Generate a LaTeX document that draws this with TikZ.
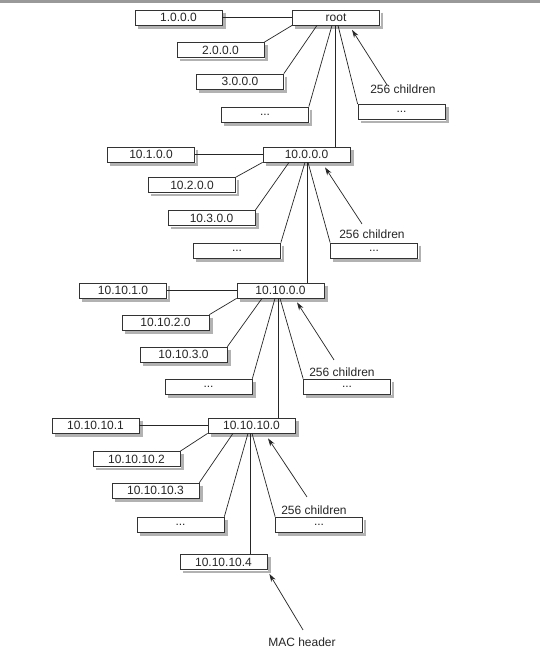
\documentclass[tikz,border=0pt]{standalone}
\usepackage{fontspec}
\setmainfont{Liberation Sans}
\usetikzlibrary{arrows.meta}
\begin{document}
\begin{tikzpicture}[x=1pt,y=-1pt,
  box/.style={draw=black!80, line width=0.7pt, fill=white, minimum width=87pt, minimum height=15pt, inner sep=0pt, font=\fontsize{12}{14}\selectfont, text=black!85},
  lbl/.style={inner sep=0pt, font=\fontsize{12}{14}\selectfont, text=black!85},
  con/.style={draw=black!85, line width=0.7pt},
  arr/.style={con, -{Stealth[length=8pt,width=5pt]}},
  shad/.style={draw=black!30, line width=2.6pt}
]
\fill[white] (0,0) rectangle (540,653);
\fill[black!40] (0,0) rectangle (540,3);

% ---- level 1
\node[box] (root) at (336,17.5) {root};
\node[box] (a1) at (178.5,17.5) {1.0.0.0};
\node[box] (a2) at (220.5,50) {2.0.0.0};
\node[box] (a3) at (240,81.5) {3.0.0.0};
\node[box] (al) at (265,114.5) {...};
\node[box] (ar) at (401.5,112) {...};
\node[lbl] (t1) at (403,89.5) {256 children};

% ---- level 2
\node[box] (b0) at (306.5,154.5) {10.0.0.0};
\node[box] (b1) at (151,154.5) {10.1.0.0};
\node[box] (b2) at (192,185) {10.2.0.0};
\node[box] (b3) at (211.5,218) {10.3.0.0};
\node[box] (bl) at (237,250.5) {...};
\node[box] (br) at (374,250.5) {...};
\node[lbl] (t2) at (372,234.5) {256 children};

% ---- level 3
\node[box] (c0) at (280.5,290.5) {10.10.0.0};
\node[box] (c1) at (123,290.5) {10.10.1.0};
\node[box] (c2) at (165.5,322.5) {10.10.2.0};
\node[box] (c3) at (183.5,354.5) {10.10.3.0};
\node[box] (cl) at (208.5,386.5) {...};
\node[box] (cr) at (347,386.5) {...};
\node[lbl] (t3) at (342,372) {256 children};

% ---- level 4
\node[box] (d0) at (251.5,425.5) {10.10.10.0};
\node[box] (d1) at (95.5,425.5) {10.10.10.1};
\node[box] (d2) at (136.5,459) {10.10.10.2};
\node[box] (d3) at (155.5,490.5) {10.10.10.3};
\node[box] (dl) at (180.5,524.5) {...};
\node[box] (dr) at (319,524.5) {...};
\node[lbl] (t4) at (314,510) {256 children};
\node[box] (d4) at (223.5,562) {10.10.10.4};
\node[lbl] (mac) at (302,642) {MAC header};

% ---- box shadows (right and bottom bands)
\foreach \bx in {root,a1,a2,a3,al,ar,b0,b1,b2,b3,bl,br,c0,c1,c2,c3,cl,cr,d0,d1,d2,d3,dl,dr,d4}{
  \draw[shad] ([shift={(2,3)}]\bx.north east) -- ([shift={(2,2)}]\bx.south east)
    -- ([shift={(3,2)}]\bx.south west);
}

% ---- connectors level 1
\draw[con] (a1.east) -- (a1.east -| root.west);
\draw[con] (a2.north east) -- (root.south west);
\draw[con] (a3.north east) -- ([xshift=-19pt]root.south);
\draw[con] (al.north east) -- ([xshift=-4pt]root.south);
\draw[con] (ar.north west) -- ([xshift=2pt]root.south);
\draw[con] ([xshift=-1pt]root.south) -- ([xshift=-1pt]root.south |- b0.north);
\draw[arr] ([shift={(-16,0)}]t1.north) -- ([shift={(16,4.5)}]root.south);

% ---- connectors level 2
\draw[con] (b1.east) -- (b1.east -| b0.west);
\draw[con] (b2.north east) -- (b0.south west);
\draw[con] (b3.north east) -- ([xshift=-17.5pt]b0.south);
\draw[con] (bl.north east) -- ([xshift=-1.5pt]b0.south);
\draw[con] (br.north west) -- ([xshift=1.5pt]b0.south);
\draw[con] ([xshift=0.5pt]b0.south) -- ([xshift=0.5pt]b0.south |- c0.north);
\draw[arr] ([shift={(-10,-6)}]t2.north) -- ([shift={(18.5,5)}]b0.south);

% ---- connectors level 3
\draw[con] (c1.east) -- (c1.east -| c0.west);
\draw[con] (c2.north east) -- (c0.south west);
\draw[con] (c3.north east) -- ([xshift=-18.5pt]c0.south);
\draw[con] (cl.north east) -- ([xshift=-5.5pt]c0.south);
\draw[con] (cr.north west) -- ([xshift=-0.5pt]c0.south);
\draw[con] ([xshift=-2.5pt]c0.south) -- ([xshift=-2.5pt]c0.south |- d0.north);
\draw[arr] ([shift={(-8,-7.5)}]t3.north) -- ([shift={(16.5,4)}]c0.south);

% ---- connectors level 4
\draw[con] (d1.east) -- (d1.east -| d0.west);
\draw[con] (d2.north east) -- (d0.south west);
\draw[con] (d3.north east) -- ([xshift=-18.5pt]d0.south);
\draw[con] (dl.north east) -- ([xshift=-3.5pt]d0.south);
\draw[con] (dr.north west) -- ([xshift=0.5pt]d0.south);
\draw[con] ([xshift=-1.5pt]d0.south) -- ([xshift=-1.5pt]d0.south |- d4.north);
\draw[arr] ([shift={(-7,-8.5)}]t4.north) -- ([shift={(16.5,5)}]d0.south);
\draw[arr] ([shift={(1,-7.5)}]mac.north) -- ([shift={(2,4)}]d4.south east);
\end{tikzpicture}
\end{document}
